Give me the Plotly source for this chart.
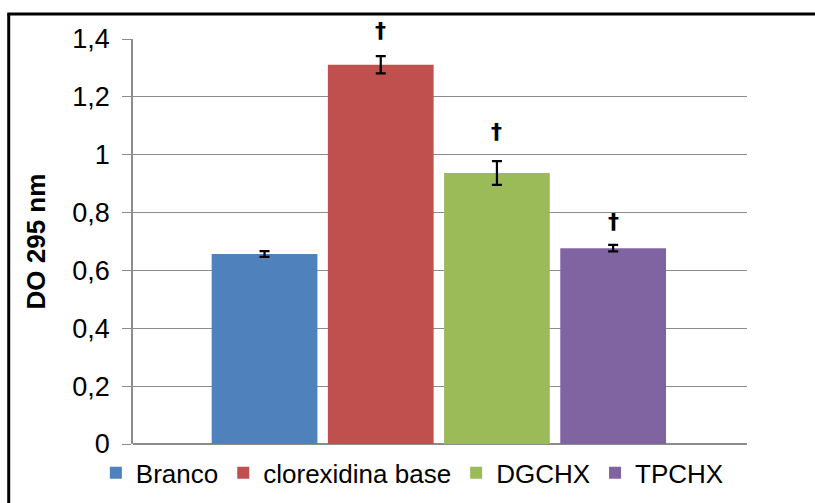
import plotly.graph_objects as go

categories = ["Branco", "clorexidina base", "DGCHX", "TPCHX"]
values = [0.657, 1.311, 0.937, 0.677]
errors = [0.010, 0.030, 0.041, 0.011]
colors = ["#4F81BD", "#C0504D", "#9BBB59", "#8064A2"]
marks = ["", "†", "†", "†"]
mark_y = [None, 1.41, 1.058, 0.747]
y_ticks = [0, 0.2, 0.4, 0.6, 0.8, 1.0, 1.2, 1.4]
Y_MAX = 1.4

FONT = "Liberation Sans, Arial, sans-serif"

fig = go.Figure()
for cat, val, err, col in zip(categories, values, errors, colors):
    fig.add_trace(go.Bar(
        x=[cat], y=[val], name=cat, width=0.91,
        marker=dict(color=col, line=dict(width=0)),
        error_y=dict(type="data", array=[err], visible=True,
                     color="black", thickness=2.2, width=5),
    ))

# significance marks (y in paper units from data values, so 1.41 is not hidden)
for cat, my, m in zip(categories, mark_y, marks):
    if m:
        fig.add_annotation(x=cat, yref="paper", y=my / Y_MAX, yshift=6,
                           text="<b>" + m + "</b>", showarrow=False,
                           xanchor="center", yanchor="middle",
                           font=dict(family="DejaVu Sans, sans-serif", size=22,
                                     color="black"))

fig.add_annotation(x=0, xref="paper", y=0.5, yref="paper", xshift=-98,
                   text="<b>DO 295 nm</b>", textangle=-90, showarrow=False,
                   xanchor="center", yanchor="middle",
                   font=dict(family=FONT, size=26, color="black"))

# outer chart frame (left and top edges visible)
fig.add_shape(type="line", xref="paper", yref="paper",
              x0=-0.2024, x1=-0.2024, y0=1.0618, y1=-0.2,
              line=dict(color="black", width=3))
fig.add_shape(type="line", xref="paper", yref="paper",
              x0=-0.2048, x1=1.15, y0=1.0618, y1=1.0618,
              line=dict(color="black", width=3))

fig.update_layout(
    width=815, height=503,
    margin=dict(l=133, r=68, t=39, b=59, autoexpand=False),
    paper_bgcolor="white", plot_bgcolor="white",
    barmode="overlay",
    separators=",.",
    font=dict(family=FONT, size=26, color="black"),
    showlegend=True,
    legend=dict(orientation="h", x=-0.0605, xanchor="left",
                y=-0.071, yanchor="middle",
                font=dict(family=FONT, size=26, color="black"),
                itemwidth=30, bgcolor="rgba(0,0,0,0)"),
    xaxis=dict(type="category", range=[-1.132, 4.152],
               showticklabels=False, showgrid=False, zeroline=False,
               showline=False, ticks=""),
    yaxis=dict(range=[0, Y_MAX], tickvals=y_ticks,
               showgrid=True, gridcolor="#8C8C8C", gridwidth=1.3,
               zeroline=True, zerolinecolor="#8C8C8C", zerolinewidth=1.5,
               showline=True, linecolor="#8C8C8C", linewidth=1.5,
               ticks="outside", ticklen=9, tickcolor="#8C8C8C", tickwidth=1.3,
               ticklabelstandoff=7,
               tickfont=dict(family=FONT, size=27, color="black")),
)

fig.write_html("out.html")
